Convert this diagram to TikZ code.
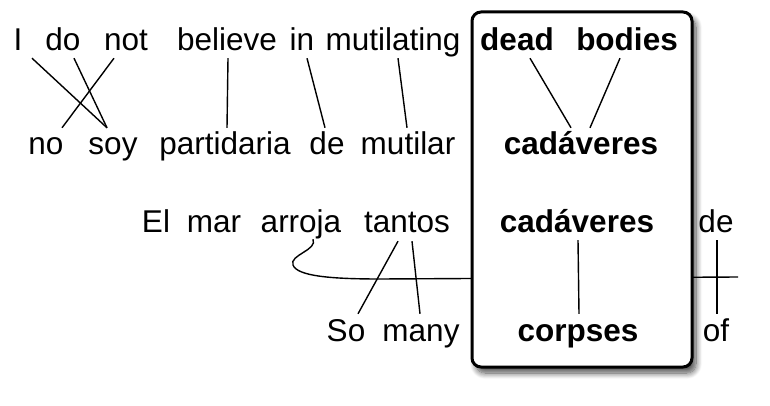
\documentclass[tikz,border=0pt]{standalone}
\usepackage{fontspec}
\setmainfont{Liberation Sans}
\usetikzlibrary{shadows.blur}
\begin{document}
\begin{tikzpicture}[x=1pt,y=-1pt,
  wd/.style={anchor=base, inner sep=0pt, text height=27pt, text depth=7pt, font=\fontsize{31.5}{36}\selectfont},
  bw/.style={wd, font=\fontsize{31.5}{36}\selectfont\bfseries},
  link/.style={line width=1.4pt},
  frame/.style={draw, line width=3pt, rounded corners=9pt, fill=white,
    blur shadow={shadow xshift=4pt, shadow yshift=-6pt, shadow blur radius=6pt, shadow blur steps=10, shadow opacity=70}}]
\useasboundingbox (0,0) rectangle (770,406);
% row 1
\node[wd] (I) at (18,51) {I};
\node[wd] (do) at (63,51) {do};
\node[wd] (not) at (126,51) {not};
\node[wd] (believe) at (227,51) {believe};
\node[wd] (in) at (302,51) {in};
\node[wd] (mutilating) at (393,51) {mutilating};
% row 2
\node[wd] (no) at (46,155) {no};
\node[wd] (soy) at (113,155) {soy};
\node[wd] (partidaria) at (225,155) {partidaria};
\node[wd] (de) at (327,155) {de};
\node[wd] (mutilar) at (408,155) {mutilar};
% row 3
\node[wd] (El) at (156,232) {El};
\node[wd] (mar) at (214,232) {mar};
\node[wd] (arroja) at (301,232) {arroja};
\node[wd] (tantos) at (407,232) {tantos};
\node[wd] (detwo) at (716,232) {de};
% row 4
\node[wd] (So) at (346,341) {So};
\node[wd] (many) at (421,341) {many};
\node[wd] (of) at (716,341) {of};
% long alignment line behind the box
\coordinate (lineend) at (738,277);
\draw[link] ([xshift=12pt]arroja.south) .. controls (318,250) and (289,255) .. (293,265)
  .. controls (297,276) and (330,279) .. (380,279) -- (lineend);
% box
\node[frame, minimum width=220pt, minimum height=355pt] (box) at (582,189.5) {};
% bold words
\node[bw] (dead) at (517,51) {dead};
\node[bw] (bodies) at (627,51) {bodies};
\node[bw] (cadone) at (581,155) {cadáveres};
\node[bw] (cadtwo) at (577,232) {cadáveres};
\node[bw] (corpses) at (578,341) {corpses};
% links
\draw[link] ([xshift=14pt]I.south) -- ([xshift=-6pt]soy.north);
\draw[link] ([xshift=11pt]do.south) -- ([xshift=-6pt]soy.north);
\draw[link] ([xshift=-12pt]not.south) -- ([xshift=16pt]no.north);
\draw[link] ([xshift=1pt]believe.south) -- ([xshift=2pt]partidaria.north);
\draw[link] ([xshift=5pt]in.south) -- ([xshift=-2pt]de.north);
\draw[link] ([xshift=5pt]mutilating.south) -- ([xshift=-1pt]mutilar.north);
\draw[link] ([xshift=13pt]dead.south) -- ([xshift=-10pt]cadone.north);
\draw[link] ([xshift=-7pt]bodies.south) -- ([xshift=9pt]cadone.north);
\draw[link] ([xshift=1pt,yshift=-1pt]cadtwo.south) -- ([xshift=1pt]corpses.north);
\draw[link] ([xshift=1pt,yshift=-1pt]detwo.south) -- ([xshift=1pt]of.north);
\draw[link] ([xshift=-9pt,yshift=-2pt]tantos.south) -- ([xshift=12pt]So.north);
\draw[link] ([xshift=5pt,yshift=-2pt]tantos.south) -- ([xshift=-1pt]many.north);
\end{tikzpicture}
\end{document}
